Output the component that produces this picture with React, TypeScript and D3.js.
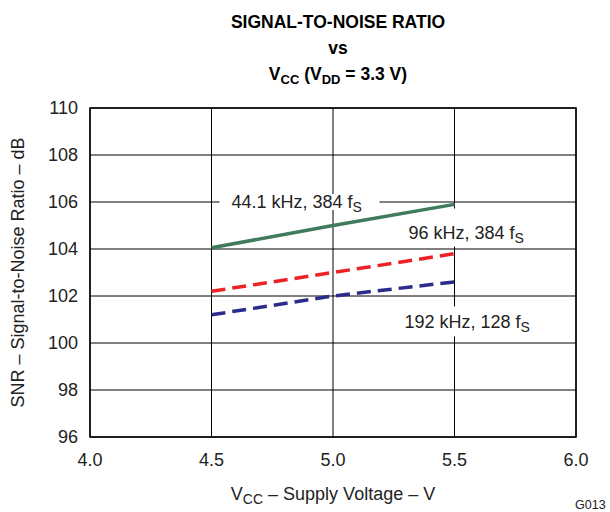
import * as d3 from "d3";

const voltages = [4.5, 5.0, 5.5];
const snr44k = [104.05, 105.0, 105.9];
const snr96k = [102.2, 103.0, 103.8];
const snr192k = [101.2, 102.0, 102.6];

const xTicks = [4.0, 4.5, 5.0, 5.5, 6.0];
const yTicks = [96, 98, 100, 102, 104, 106, 108, 110];

const font = "Liberation Sans, Arial, sans-serif";

function App() {
    const width = 610;
    const height = 512;
    const margin = { top: 108, right: 34, bottom: 75, left: 90 };
    const innerW = width - margin.left - margin.right;
    const innerH = height - margin.top - margin.bottom;

    const x = d3.scaleLinear().domain([4.0, 6.0]).range([0, innerW]);
    const y = d3.scaleLinear().domain([96, 110]).range([innerH, 0]);

    const line = d3.line<number>()
        .x((_, i) => x(voltages[i]))
        .y(d => y(d));

    const series = [
        { values: snr44k, color: "#3f7b5c", dash: undefined },
        { values: snr96k, color: "#ec2227", dash: "14 7" },
        { values: snr192k, color: "#2b2b8c", dash: "14 7" },
    ];

    return (
        <svg width={width} height={height} style={{ position: "absolute", left: 0, top: 0, background: "white" }} fontFamily={font}>
            {/* title */}
            <g textAnchor="middle" fontWeight="bold" fontSize="17.5" fill="#000">
                <text x={338} y={28}>SIGNAL-TO-NOISE RATIO</text>
                <text x={338} y={54}>vs</text>
                <text x={338} y={80}>
                    V<tspan fontSize="13" dy="4">CC</tspan><tspan dy="-4"> (V</tspan><tspan fontSize="13" dy="4">DD</tspan><tspan dy="-4"> = 3.3 V)</tspan>
                </text>
            </g>

            <g transform={`translate(${margin.left},${margin.top})`}>
                {/* grid */}
                {yTicks.map(t => (
                    <line key={"gy" + t} x1={0} x2={innerW} y1={y(t)} y2={y(t)} stroke="#000" strokeWidth={1} />
                ))}
                {xTicks.map(t => (
                    <line key={"gx" + t} x1={x(t)} x2={x(t)} y1={0} y2={innerH} stroke="#000" strokeWidth={1} />
                ))}
                <rect x={0} y={0} width={innerW} height={innerH} fill="none" stroke="#000" strokeWidth={1.5} />

                {/* label backgrounds */}
                <rect x={x(4.5) + 8} y={y(106) - 8} width={160} height={16} fill="white" />
                <rect x={x(5.5) - 54} y={y(105.85) + 3} width={135} height={38} fill="white" />
                <rect x={x(5.5) - 54} y={y(101.6) + 1} width={135} height={30} fill="white" />

                {/* series */}
                {series.map((s, i) => (
                    <path key={i} d={line(s.values) ?? ""} fill="none" stroke={s.color} strokeWidth={3.5} strokeDasharray={s.dash} />
                ))}

                {/* labels */}
                <g fontSize="18" fill="#222">
                    <text x={x(4.5) + 20} y={y(106) + 6}>44.1 kHz, 384 f<tspan fontSize="14" dy="4">S</tspan></text>
                    <text x={x(5.5) - 46} y={y(104.6) + 4}>96 kHz, 384 f<tspan fontSize="14" dy="4">S</tspan></text>
                    <text x={x(5.5) - 50} y={y(100.6) - 1}>192 kHz, 128 f<tspan fontSize="14" dy="4">S</tspan></text>
                </g>

                {/* y ticks */}
                <g fontSize="18" fill="#222" textAnchor="end">
                    {yTicks.map(t => (
                        <text key={"ty" + t} x={-12} y={y(t) + 6}>{t}</text>
                    ))}
                </g>
                {/* x ticks */}
                <g fontSize="18" fill="#222" textAnchor="middle">
                    {xTicks.map(t => (
                        <text key={"tx" + t} x={x(t)} y={innerH + 29}>{d3.format(".1f")(t)}</text>
                    ))}
                </g>

                {/* axis titles */}
                <text x={innerW / 2} y={innerH + 63} textAnchor="middle" fontSize="18" fill="#222">
                    V<tspan fontSize="14" dy="4">CC</tspan><tspan dy="-4"> – Supply Voltage – V</tspan>
                </text>
                <text transform={`translate(${-66},${innerH / 2}) rotate(-90)`} textAnchor="middle" fontSize="18" fill="#222">
                    SNR – Signal-to-Noise Ratio – dB
                </text>
            </g>

            <text x={575} y={509} fontSize="12.5" fill="#222">G013</text>
        </svg>
    );
}

export default App;
